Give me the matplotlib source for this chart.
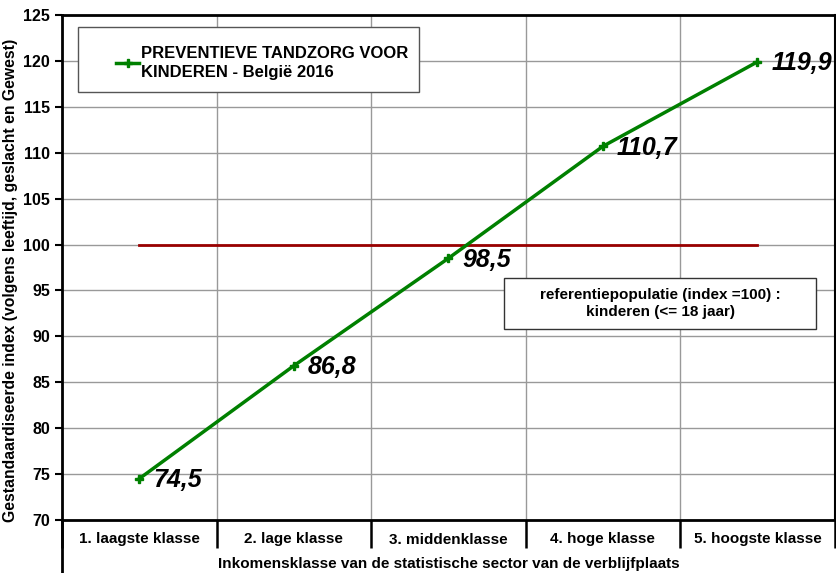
import matplotlib.pyplot as plt
from matplotlib.patches import Rectangle
import numpy as np

plt.rcParams['font.family'] = ['Liberation Sans', 'DejaVu Sans']

# inkomensklassen en gestandaardiseerde index
klassen = ['1. laagste klasse', '2. lage klasse', '3. middenklasse',
           '4. hoge klasse', '5. hoogste klasse']
index = [74.5, 86.8, 98.5, 110.7, 119.9]
referentie = [100, 100, 100, 100, 100]
labels = ['74,5', '86,8', '98,5', '110,7', '119,9']

x = np.arange(len(klassen))

fig = plt.figure(figsize=(8.36, 5.73), dpi=100)
ax = fig.add_axes([62 / 836, 1 - 520 / 573, 1 - 62 / 836 - 0.0015, (520 - 15) / 573])

# referentielijn (index = 100)
ax.plot(x, referentie, color='#990000', lw=2, zorder=3)
ax.plot(x, index, color='#008000', lw=2.5, marker='P', markersize=6,
        label='PREVENTIEVE TANDZORG VOOR\nKINDEREN - België 2016', zorder=4)

for xi, yi, lab in zip(x, index, labels):
    ax.annotate(lab, (xi, yi), xytext=(10, -1), textcoords='offset points',
                fontsize=18, fontweight='bold', fontstyle='italic',
                ha='left', va='center', zorder=5, annotation_clip=False)

ax.set_xlim(-0.5, len(klassen) - 0.5)
ax.set_ylim(70, 125)
ax.set_yticks(np.arange(70, 126, 5))
ax.tick_params(axis='y', labelsize=11.5, width=1.5, length=5)
for t in ax.get_yticklabels():
    t.set_fontweight('bold')

# scheidingen tussen de klassen onder de as
ax.set_xticks(np.arange(-0.5, len(klassen), 1))
ax.set_xticklabels([])
ax.tick_params(axis='x', which='major', direction='out', length=20, width=1.8)
ax.set_xticks(x, minor=True)
ax.set_xticklabels(klassen, minor=True, fontsize=11, fontweight='bold')
ax.tick_params(axis='x', which='minor', length=0, pad=9)
# linkse as loopt door tot onderaan
ax.plot([0, 0], [0, -0.12], transform=ax.transAxes, color='black', lw=2,
        clip_on=False, solid_capstyle='butt')

ax.grid(True, which='major', color='#999999', lw=1)
ax.set_axisbelow(True)
for s in ax.spines.values():
    s.set_linewidth(2)
ax.spines['right'].set_linewidth(1.5)

ax.set_ylabel('Gestandaardiseerde index (volgens leeftijd, geslacht en Gewest)',
              fontsize=11.3, fontweight='bold')
ax.yaxis.set_label_coords(-0.0565, 0.475)
ax.set_xlabel('Inkomensklasse van de statistische sector van de verblijfplaats',
              fontsize=11, fontweight='bold', labelpad=3)

# legendekader
ax.add_patch(Rectangle((16 / 774, 0.8475), 342 / 774, 0.1287, transform=ax.transAxes,
                       fc='white', ec='#555555', lw=1, zorder=6))
leg = ax.legend(loc='upper left', bbox_to_anchor=(0.0698, 0.938),
                frameon=False, prop={'size': 12, 'weight': 'bold'},
                handlelength=1.4, handletextpad=0.1, borderpad=0,
                borderaxespad=0)
leg.set_zorder(7)
for t in leg.get_texts():
    t.set_linespacing(1.3)

# kader met de referentiepopulatie
ax.add_patch(Rectangle((0.5724, 0.378), 0.4031, 0.101, transform=ax.transAxes,
                       fc='white', ec='#333333', lw=1, zorder=6))
ax.text(0.774, 0.4285, 'referentiepopulatie (index =100) :\nkinderen (<= 18 jaar)',
        transform=ax.transAxes, fontsize=11, fontweight='bold', ha='center',
        va='center', linespacing=1.3, zorder=7)

fig.savefig('out.png', dpi=100)
